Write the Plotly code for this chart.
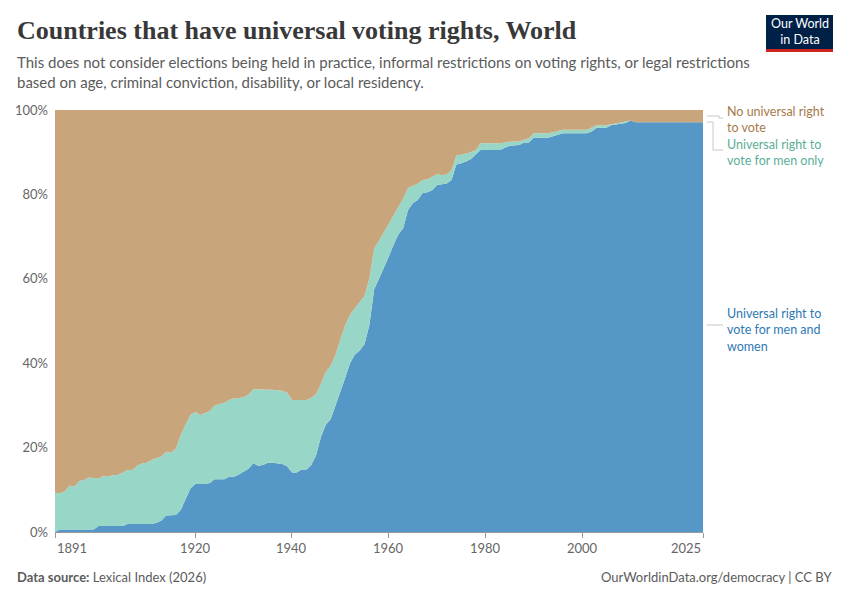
import plotly.graph_objects as go

years = [1891, 1892, 1893, 1894, 1895, 1896, 1897, 1898, 1899, 1900,
         1901, 1902, 1903, 1904, 1905, 1906, 1907, 1908, 1909, 1910,
         1911, 1912, 1913, 1914, 1915, 1916, 1917, 1918, 1919, 1920,
         1921, 1922, 1923, 1924, 1925, 1926, 1927, 1928, 1929, 1930,
         1931, 1932, 1933, 1934, 1935, 1936, 1937, 1938, 1939, 1940,
         1941, 1942, 1943, 1944, 1945, 1946, 1947, 1948, 1949, 1950,
         1951, 1952, 1953, 1954, 1955, 1956, 1957, 1958, 1959, 1960,
         1961, 1962, 1963, 1964, 1965, 1966, 1967, 1968, 1969, 1970,
         1971, 1972, 1973, 1974, 1975, 1976, 1977, 1978, 1979, 1983,
         1984, 1985, 1987, 1988, 1989, 1990, 1993, 1994, 1995, 1996,
         2001, 2002, 2003, 2005, 2006, 2007, 2008, 2009, 2010, 2011,
         2025]

# share of countries with universal suffrage for men and women (%)
men_and_women = [0.0, 0.6, 0.6, 0.6, 0.6, 0.6, 0.6, 0.6, 0.6, 1.4,
                 1.4, 1.4, 1.4, 1.4, 1.4, 1.9, 1.9, 1.9, 1.9, 1.9,
                 1.9, 2.2, 2.7, 3.9, 3.9, 4.0, 5.2, 7.6, 10.3, 11.4,
                 11.4, 11.4, 11.6, 12.5, 12.5, 12.5, 13.1, 13.1, 13.6, 14.3,
                 15.0, 16.3, 15.7, 15.9, 16.4, 16.4, 16.3, 16.1, 15.6, 14.1,
                 14.1, 14.8, 14.8, 15.9, 18.2, 22.6, 25.4, 26.7, 30.0, 33.0,
                 36.5, 40.0, 42.0, 43.0, 44.5, 49.0, 57.5, 60.0, 62.5, 65.2,
                 68.0, 70.5, 72.0, 76.3, 77.9, 78.7, 80.3, 80.5, 81.0, 82.2,
                 82.4, 82.6, 83.4, 87.1, 87.4, 87.8, 88.4, 89.5, 90.5, 90.5,
                 91.0, 91.5, 91.7, 92.3, 92.3, 93.4, 93.4, 93.8, 94.2, 94.5,
                 94.5, 94.9, 95.8, 95.8, 96.4, 96.6, 96.8, 96.9, 97.5, 97.1,
                 97.1]

# share of countries with universal suffrage for men only (%)
men_only = [9.3, 8.6, 9.0, 10.4, 10.1, 11.5, 11.7, 12.3, 12.2, 11.3,
            11.9, 11.7, 12.1, 12.1, 12.7, 12.8, 12.8, 13.8, 14.4, 14.5,
            15.2, 15.3, 15.2, 15.1, 14.9, 15.8, 17.8, 17.8, 17.4, 17.1,
            16.3, 16.8, 17.1, 17.5, 17.8, 18.1, 18.2, 18.6, 18.1, 17.7,
            17.5, 17.5, 18.1, 17.9, 17.4, 17.3, 17.3, 17.4, 17.4, 17.2,
            17.2, 16.5, 16.5, 15.9, 14.5, 12.6, 12.6, 12.7, 12.0, 12.6,
            12.5, 11.5, 11.0, 11.5, 11.5, 11.0, 9.7, 9.0, 8.5, 7.9,
            7.2, 6.5, 7.0, 5.2, 4.2, 3.8, 3.1, 3.1, 3.2, 2.6,
            2.2, 2.1, 2.4, 2.2, 2.0, 1.9, 1.6, 1.0, 1.6, 1.6,
            1.3, 1.0, 0.9, 0.7, 1.0, 1.1, 1.1, 0.9, 0.8, 0.8,
            0.8, 0.9, 0.6, 0.6, 0.2, 0.3, 0.3, 0.4, 0.0, 0.0,
            0.0]

no_universal = [round(100 - a - b, 2) for a, b in zip(men_and_women, men_only)]

series_names = ["Universal right to vote for men and women",
                "Universal right to vote for men only",
                "No universal right to vote"]
series_values = [men_and_women, men_only, no_universal]
fill_colors = ["#5597C6", "#98D7C7", "#C8A57A"]
label_colors = ["#2E78B4", "#5AAE98", "#A6794A"]
label_texts = ["Universal right to<br>vote for men and<br>women",
               "Universal right to<br>vote for men only",
               "No universal right<br>to vote"]
label_top_y = [305, 136, 103]  # pixel y of top of each label block

x_tickvals = [1891, 1920, 1940, 1960, 1980, 2000, 2025]
y_tickvals = [0, 20, 40, 60, 80, 100]
y_ticktext = ["0%", "20%", "40%", "60%", "80%", "100%"]

# layout geometry (pixels)
W, H = 850, 600
L, R, T, B = 55, 703, 110, 532


def px(xp):
    return (xp - L) / (R - L)


def py(yp):
    return (B - yp) / (B - T)


fig = go.Figure()
for name, vals, col in zip(series_names, series_values, fill_colors):
    fig.add_trace(go.Scatter(
        x=years, y=vals, name=name, mode="lines",
        stackgroup="one", line=dict(width=0, color=col),
        fillcolor=col, hoverinfo="x+y+name"))

font_main = "Lato, 'Open Sans', sans-serif"
annotations = [
    dict(text="<b>Countries that have universal voting rights, World</b>",
         x=px(15), y=py(31), xanchor="left", yanchor="middle",
         font=dict(family="'Liberation Serif', 'DejaVu Serif', serif", size=26, color="#383838")),
    dict(text="This does not consider elections being held in practice, informal restrictions on voting rights, or legal restrictions<br>based on age, criminal conviction, disability, or local residency.",
         x=px(15), y=py(51), xanchor="left", yanchor="top", align="left",
         font=dict(family=font_main, size=15, color="#5b5b5b")),
    dict(text="<b>Data source:</b> Lexical Index (2026)",
         x=px(15), y=py(577), xanchor="left", yanchor="middle",
         font=dict(family=font_main, size=13, color="#5b5b5b")),
    dict(text="OurWorldinData.org/democracy | CC BY",
         x=px(834), y=py(577), xanchor="right", yanchor="middle",
         font=dict(family=font_main, size=13, color="#5b5b5b")),
    dict(text="Our World<br>in Data", x=px(800), y=py(32), xanchor="center", yanchor="middle",
         font=dict(family=font_main, size=12.5, color="white")),
]
# series labels
for txt, y0, col in zip(label_texts, label_top_y, label_colors):
    annotations.append(dict(text=txt, x=px(726), y=py(y0), xanchor="left", yanchor="top",
                            align="left", borderpad=0,
                            font=dict(family=font_main, size=12.5, color=col)))
# x tick labels (first left-aligned, last right-aligned)
for i, v in enumerate(x_tickvals):
    anchor = "left" if i == 0 else ("right" if i == len(x_tickvals) - 1 else "center")
    annotations.append(dict(text=str(v), x=v, xref="x", y=py(548), xanchor=anchor,
                            yanchor="middle",
                            font=dict(family=font_main, size=13, color="#666")))
for a in annotations:
    a.setdefault("xref", "paper")
    a.update(yref="paper", showarrow=False)

line_col = "#c8c8c8"
shapes = [
    dict(type="rect", x0=px(766), x1=px(833), y0=py(15), y1=py(52),
         fillcolor="#002147", line=dict(width=0)),
    dict(type="rect", x0=px(766), x1=px(833), y0=py(49), y1=py(52),
         fillcolor="#CE261E", line=dict(width=0)),
    dict(type="path", path=f"M {px(707)} {py(116)} L {px(719)} {py(116)} L {px(719)} {py(118)} L {px(723)} {py(118)}",
         line=dict(color=line_col, width=1)),
    dict(type="path", path=f"M {px(707)} {py(122)} L {px(713)} {py(122)} L {px(713)} {py(150)} L {px(723)} {py(150)}",
         line=dict(color=line_col, width=1)),
    dict(type="line", x0=px(707), x1=px(723), y0=py(325), y1=py(325),
         line=dict(color=line_col, width=1)),
]
for s in shapes:
    s.update(xref="paper", yref="paper")

fig.update_layout(
    width=W, height=H,
    margin=dict(l=L, r=W - R, t=T, b=H - B),
    paper_bgcolor="white", plot_bgcolor="white",
    showlegend=False,
    annotations=annotations,
    shapes=shapes,
    font=dict(family=font_main),
    xaxis=dict(range=[1891, 2025], tickvals=x_tickvals, showticklabels=False,
               showgrid=False, ticks="outside", ticklen=5, tickcolor="#999",
               showline=True, linecolor="#999", zeroline=False, fixedrange=True),
    yaxis=dict(range=[0, 100], tickvals=y_tickvals, ticktext=y_ticktext,
               showgrid=True, gridcolor="rgba(0,0,0,0.08)", griddash="dash",
               zeroline=False, showline=False, layer="above traces",
               tickfont=dict(size=13, color="#666"), ticks="", ticklabelstandoff=6,
               fixedrange=True),
)

fig.write_html("out.html")
